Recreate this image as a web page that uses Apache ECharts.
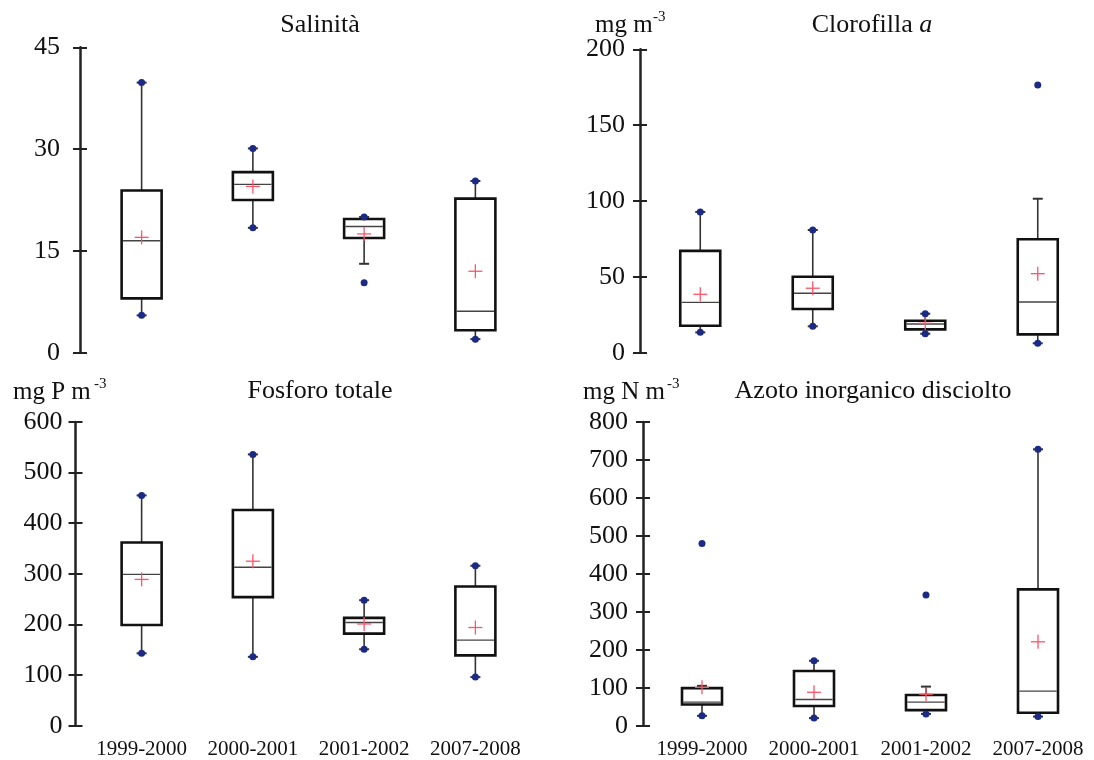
<!DOCTYPE html>
<html>
<head>
<meta charset="utf-8">
<script src="https://cdn.jsdelivr.net/npm/echarts@6/dist/echarts.min.js"></script>
<style>
html,body{margin:0;padding:0;background:#fff;}
#chart{width:1094px;height:760px;}
</style>
</head>
<body>
<div id="chart"></div>
<script>
// ---------- DATA ----------
const categories = ['1999-2000', '2000-2001', '2001-2002', '2007-2008'];

// Salinità
const salLow    = [5.5, 18.4, 13.1, 2.0];
const salQ1     = [8.0, 22.5, 16.9, 3.3];
const salMedian = [16.5, 24.8, 18.6, 6.1];
const salQ3     = [23.9, 26.6, 19.7, 22.7];
const salHigh   = [39.8, 30.1, 20.0, 25.3];
const salMean   = [17.0, 24.5, 17.5, 12.0];
const salMin    = [5.5, 18.4, 10.3, 2.0];
const salMax    = [39.8, 30.1, 20.0, 25.3];
const salTicks  = [0, 15, 30, 45];

// Clorofilla a
const chlLow    = [13.4, 17.4, 12.5, 6.2];
const chlQ1     = [17.8, 28.8, 15.4, 12.1];
const chlMedian = [33.2, 39.2, 18.9, 33.4];
const chlQ3     = [67.1, 50.1, 21.1, 74.8];
const chlHigh   = [92.8, 80.9, 25.7, 101.5];
const chlMean   = [38.5, 42.5, 19.4, 52.1];
const chlMin    = [13.4, 17.4, 12.5, 6.2];
const chlMax    = [92.8, 80.9, 25.7, 176.5];
const chlTicks  = [0, 50, 100, 150, 200];

// Fosforo totale
const tpLow    = [143, 136, 151, 96];
const tpQ1     = [199, 254, 182, 139];
const tpMedian = [299, 313, 204, 169];
const tpQ3     = [362, 426, 213, 275];
const tpHigh   = [455, 536, 248, 316];
const tpMean   = [289, 325, 201, 194];
const tpMin    = [143, 136, 151, 96];
const tpMax    = [455, 536, 248, 316];
const tpTicks  = [0, 100, 200, 300, 400, 500, 600];

// Azoto inorganico disciolto
const dinLow    = [26, 20, 31, 24];
const dinQ1     = [56, 52, 41, 34];
const dinMedian = [62, 69, 62, 91];
const dinQ3     = [99, 144, 81, 359];
const dinHigh   = [105, 171, 103, 728];
const dinMean   = [101, 88, 83, 221];
const dinMin    = [26, 20, 31, 24];
const dinMax    = [480, 171, 344, 728];
const dinTicks  = [0, 100, 200, 300, 400, 500, 600, 700, 800];

// ---------- BUILD ----------
const FONT = "'Liberation Serif', 'Times New Roman', serif";
const TXT = '#111';

const panels = [
  {low: salLow, q1: salQ1, med: salMedian, q3: salQ3, high: salHigh, mean: salMean, mn: salMin, mx: salMax, ticks: salTicks,
   grid: {left: 86, width: 445, top: 47.3, height: 305.4}, offset: 6, margin: 20, showX: false},
  {low: chlLow, q1: chlQ1, med: chlMedian, q3: chlQ3, high: chlHigh, mean: chlMean, mn: chlMin, mx: chlMax, ticks: chlTicks,
   grid: {left: 644, width: 460, top: 49.3, height: 303.4}, offset: 4, margin: 15, showX: false},
  {low: tpLow, q1: tpQ1, med: tpMedian, q3: tpQ3, high: tpHigh, mean: tpMean, mn: tpMin, mx: tpMax, ticks: tpTicks,
   grid: {left: 86, width: 445, top: 422, height: 303.7}, offset: 10.5, margin: 13, showX: true},
  {low: dinLow, q1: dinQ1, med: dinMedian, q3: dinQ3, high: dinHigh, mean: dinMean, mn: dinMin, mx: dinMax, ticks: dinTicks,
   grid: {left: 646, width: 458, top: 422, height: 303.7}, offset: 3, margin: 15, showX: true}
];

const grid = [], xAxis = [], yAxis = [], series = [];

function renderBox(params, api) {
  const i = api.value(0);
  const x = api.coord([i, 0])[0];
  const Y = v => api.coord([i, v])[1];
  const yLow = Y(api.value(1)), yQ1 = Y(api.value(2)), yMed = Y(api.value(3)),
        yQ3 = Y(api.value(4)), yHigh = Y(api.value(5)), yMean = Y(api.value(6));
  const bw = 40, cap = 5, ph = 7;
  const wStyle = {stroke: '#333', lineWidth: 1.6};
  const children = [
    {type: 'line', shape: {x1: x, y1: yQ3, x2: x, y2: yHigh}, style: wStyle},
    {type: 'line', shape: {x1: x, y1: yQ1, x2: x, y2: yLow}, style: wStyle},
    {type: 'line', shape: {x1: x - cap, y1: yHigh, x2: x + cap, y2: yHigh}, style: {stroke: '#333', lineWidth: 2}},
    {type: 'line', shape: {x1: x - cap, y1: yLow, x2: x + cap, y2: yLow}, style: {stroke: '#333', lineWidth: 2}},
    {type: 'rect', shape: {x: x - bw / 2, y: yQ3, width: bw, height: yQ1 - yQ3},
     style: {fill: '#fff', stroke: '#111', lineWidth: 2.6}},
    {type: 'line', shape: {x1: x - bw / 2 + 1.3, y1: yMed, x2: x + bw / 2 - 1.3, y2: yMed},
     style: {stroke: '#444', lineWidth: 1.4}},
    {type: 'line', shape: {x1: x - ph, y1: yMean, x2: x + ph, y2: yMean}, style: {stroke: '#ff5468', lineWidth: 1.3}},
    {type: 'line', shape: {x1: x, y1: yMean - ph, x2: x, y2: yMean + ph}, style: {stroke: '#ff5468', lineWidth: 1.3}}
  ];
  return {type: 'group', children};
}

panels.forEach((p, k) => {
  grid.push(p.grid);
  const maxV = p.ticks[p.ticks.length - 1];
  const step = p.ticks[1] - p.ticks[0];
  xAxis.push({
    type: 'category', gridIndex: k, data: categories, boundaryGap: true,
    axisLine: {show: false}, axisTick: {show: false},
    axisLabel: {show: p.showX, fontFamily: FONT, fontSize: 21, color: TXT, margin: 13, interval: 0}
  });
  const common = {
    type: 'value', gridIndex: k, position: 'left', min: 0, max: maxV, interval: step,
    offset: p.offset, splitLine: {show: false}
  };
  yAxis.push(Object.assign({}, common, {
    axisLine: {show: true, lineStyle: {color: '#222', width: 2.5}},
    axisTick: {show: true, length: 7, lineStyle: {color: '#222', width: 2}},
    axisLabel: {fontFamily: FONT, fontSize: 26, color: TXT, margin: p.margin}
  }));
  yAxis.push(Object.assign({}, common, {
    axisLine: {show: false},
    axisTick: {show: true, inside: true, length: 7, lineStyle: {color: '#222', width: 2}},
    axisLabel: {show: false}
  }));
  const boxData = categories.map((c, i) => [i, p.low[i], p.q1[i], p.med[i], p.q3[i], p.high[i], p.mean[i]]);
  series.push({
    type: 'custom', xAxisIndex: k, yAxisIndex: 2 * k, renderItem: renderBox,
    encode: {x: 0, y: [1, 2, 3, 4, 5, 6]}, data: boxData, z: 2, silent: true
  });
  const dots = [];
  categories.forEach((c, i) => { dots.push([i, p.mn[i]]); dots.push([i, p.mx[i]]); });
  series.push({
    type: 'scatter', xAxisIndex: k, yAxisIndex: 2 * k, data: dots, symbol: 'circle', symbolSize: 7,
    itemStyle: {color: '#1b2a84', opacity: 1}, z: 5, silent: true
  });
});

const titleStyle = {fontFamily: FONT, fontSize: 26, fill: TXT};
function txt(x, y, text, align, size, extra) {
  return {type: 'text', x: x, y: y, silent: true,
    style: Object.assign({text: text, font: size + "px " + FONT, fill: TXT, align: align, verticalAlign: 'middle'}, extra || {})};
}

const graphic = [
  txt(320, 25, 'Salinità', 'center', 26),
  {type: 'text', x: 872, y: 25, silent: true,
   style: {text: 'Clorofilla {i|a}', font: "26px " + FONT, fill: TXT, align: 'center', verticalAlign: 'middle',
           rich: {i: {fontStyle: 'italic', fontFamily: FONT, fontSize: 26, fill: TXT}}}},
  txt(320, 391, 'Fosforo totale', 'center', 26),
  txt(873, 391, 'Azoto inorganico disciolto', 'center', 26),
  // unit labels
  txt(595, 25, 'mg m', 'left', 25),
  txt(653, 17, '-3', 'left', 15),
  txt(13, 392, 'mg P m', 'left', 25),
  txt(94, 384, '-3', 'left', 15),
  txt(583, 392, 'mg N m', 'left', 25),
  txt(667, 384, '-3', 'left', 15)
];

const chart = echarts.init(document.getElementById('chart'), null, {renderer: 'canvas'});
chart.setOption({
  animation: false,
  backgroundColor: '#fff',
  grid, xAxis, yAxis, series, graphic
});
</script>
</body>
</html>
